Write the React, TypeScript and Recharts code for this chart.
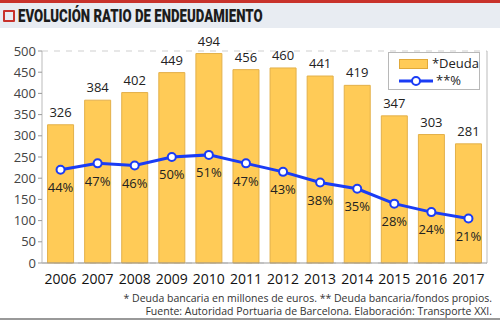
import React from "react";
import {
  ComposedChart,
  Bar,
  Line,
  XAxis,
  YAxis,
  CartesianGrid,
  LabelList,
} from "recharts";

const years = ["2006", "2007", "2008", "2009", "2010", "2011", "2012", "2013", "2014", "2015", "2016", "2017"];
const deuda = [326, 384, 402, 449, 494, 456, 460, 441, 419, 347, 303, 281];
const ratio = [44, 47, 46, 50, 51, 47, 43, 38, 35, 28, 24, 21];
const leftTicks = [0, 50, 100, 150, 200, 250, 300, 350, 400, 450, 500];
const rightTicks = [0, 10, 20, 30, 40, 50, 60, 70, 80, 90, 100];
const boundaryTicks = [0, 1, 2, 3, 4, 5, 6, 7, 8, 9, 10, 11, 12];

const data = years.map((year, i) => ({ year, deuda: deuda[i], ratio: ratio[i] }));

const FONT = "'Open Sans', 'Noto Sans', sans-serif";

const LegendBox = () => (
  <div
    style={{
      position: "absolute",
      left: 388,
      top: 52,
      width: 92,
      height: 38,
      boxSizing: "border-box",
      border: "1px solid #b8b8b8",
      background: "#fff",
      padding: "2px 0 0 10px",
      fontFamily: FONT,
      fontSize: 13,
      color: "#222",
      lineHeight: "17px",
    }}
  >
    <div style={{ display: "flex", alignItems: "center" }}>
      <span style={{ display: "inline-block", width: 30, height: 8, background: "#ffcb57", border: "1px solid #e0a93a", marginRight: 4 }} />
      *Deuda
    </div>
    <div style={{ display: "flex", alignItems: "center" }}>
      <svg width={36} height={12} style={{ marginRight: 1 }}>
        <line x1={0} y1={6} x2={34} y2={6} stroke="#1a3cf5" strokeWidth={3} />
        <circle cx={17} cy={6} r={4} fill="#fff" stroke="#1a3cf5" strokeWidth={2} />
      </svg>
      **%
    </div>
  </div>
);

export default function App() {
  return (
    <div style={{ position: "absolute", left: 0, top: 0, width: 500, height: 321, background: "#fff", overflow: "hidden" }}>
      <div style={{ position: "absolute", left: 0, top: 0, width: 500, height: 3, background: "#c8322b" }} />
      <div style={{ position: "absolute", left: 0, top: 3, width: 500, height: 25, background: "#e8ecf2" }} />
      <div
        style={{
          position: "absolute",
          left: 3,
          top: 10,
          width: 8,
          height: 8,
          border: "2px solid #c8322b",
          borderRadius: 1,
        }}
      />
      <div
        style={{
          position: "absolute",
          left: 18,
          top: 5,
          fontFamily: "Roboto, sans-serif",
          fontWeight: 900,
          fontSize: 18,
          color: "#1c1c1c",
          whiteSpace: "nowrap",
          transform: "scaleX(0.735)",
          transformOrigin: "left center",
        }}
      >
        EVOLUCIÓN RATIO DE ENDEUDAMIENTO
      </div>
      <div style={{ position: "absolute", left: 0, top: 0 }}>
        <ComposedChart
          width={500}
          height={321}
          data={data}
          margin={{ top: 51, right: 7, bottom: 28, left: 0 }}
          barCategoryGap="15%"
        >
          <CartesianGrid vertical={false} stroke="#cfcfcf" strokeDasharray="6 6" />
          <XAxis
            dataKey="year"
            height={30}
            interval={0}
            tickLine={false}
            axisLine={{ stroke: "#999" }}
            tick={{ fontFamily: FONT, fontSize: 14, fill: "#111", fontWeight: 500 }}
            tickMargin={5}
          />
          <XAxis
            xAxisId="bounds"
            type="number"
            domain={[0, 12]}
            ticks={boundaryTicks}
            interval={0}
            height={0}
            tick={false}
            tickSize={4}
            tickLine={{ stroke: "#999" }}
            axisLine={false}
          />
          <YAxis
            yAxisId="left"
            width={42}
            domain={[0, 500]}
            ticks={leftTicks}
            interval={0}
            tickLine={{ stroke: "#999" }}
            axisLine={{ stroke: "#bbb" }}
            tickSize={4}
            tickMargin={2}
            tick={{ fontFamily: FONT, fontSize: 13, fill: "#444" }}
          />
          <YAxis
            yAxisId="right"
            orientation="right"
            width={6}
            domain={[0, 100]}
            ticks={rightTicks}
            interval={0}
            tick={false}
            tickSize={5}
            tickLine={{ stroke: "#999" }}
            axisLine={{ stroke: "#bbb" }}
          />
          <Bar yAxisId="left" dataKey="deuda" fill="#ffcb57" stroke="#e3b04a" strokeWidth={1} isAnimationActive={false}>
            <LabelList
              dataKey="deuda"
              position="top"
              offset={8}
              style={{ fontFamily: FONT, fontSize: 13, fill: "#222" }}
            />
          </Bar>
          <Line
            yAxisId="right"
            dataKey="ratio"
            stroke="#1a3cf5"
            strokeWidth={3}
            dot={{ r: 4, fill: "#fff", stroke: "#1a3cf5", strokeWidth: 2 }}
            isAnimationActive={false}
          >
            <LabelList
              dataKey="ratio"
              position="bottom"
              offset={13}
              formatter={(v: number) => `${v}%`}
              style={{ fontFamily: FONT, fontSize: 13, fill: "#222" }}
            />
          </Line>
        </ComposedChart>
      </div>
      <LegendBox />
      <div
        style={{
          position: "absolute",
          right: 8,
          top: 292,
          textAlign: "right",
          fontFamily: FONT,
          fontSize: 10.5,
          lineHeight: "13px",
          color: "#333",
          whiteSpace: "nowrap",
        }}
      >
        <div>* Deuda bancaria en millones de euros. ** Deuda bancaria/fondos propios.</div>
        <div>Fuente: Autoridad Portuaria de Barcelona. Elaboración: Transporte XXI.</div>
      </div>
      <div style={{ position: "absolute", left: 0, top: 318, width: 500, height: 2, background: "#999" }} />
    </div>
  );
}
